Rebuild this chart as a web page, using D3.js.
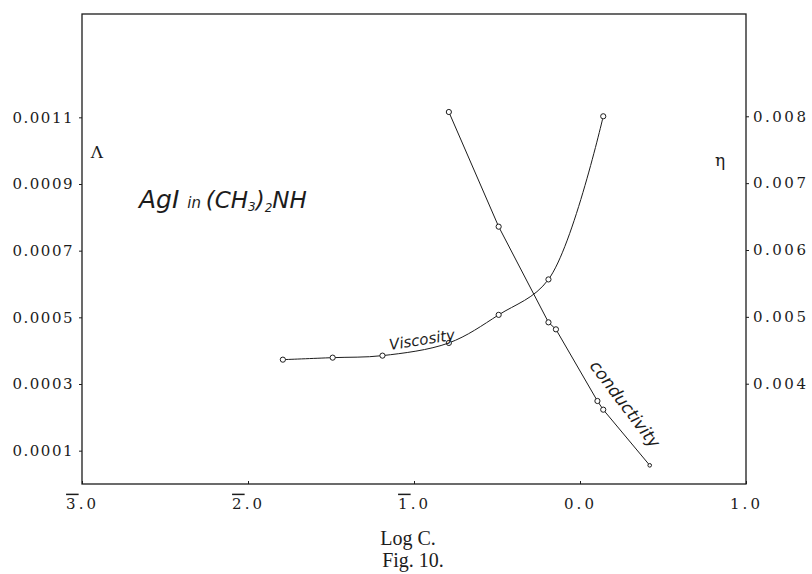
<!DOCTYPE html>
<html>
<head>
<meta charset="utf-8">
<script src="https://cdn.jsdelivr.net/npm/d3@7"></script>
<style>
  html, body { margin: 0; padding: 0; background: #fff; }
  svg { display: block; }
</style>
</head>
<body>
<script>
// ---------------------- DATA ----------------------
const viscLogC = [-1.79, -1.49, -1.19, -0.79, -0.49, -0.19, 0.14];
const viscEta = [0.00436, 0.00439, 0.00442, 0.00461, 0.00503, 0.00556, 0.00800];

const condLogC = [-0.79, -0.49, -0.19, -0.145, 0.105, 0.14, 0.42];
const condLambda = [0.001116, 0.000772, 0.000485, 0.000464, 0.000249, 0.000223, 0.000056];

const xTicks = [-3, -2, -1, 0, 1];
const leftTicks = [0.0001, 0.0003, 0.0005, 0.0007, 0.0009, 0.0011];
const rightTicks = [0.004, 0.005, 0.006, 0.007, 0.008];

// ---------------------- LAYOUT ----------------------
const width = 812, height = 574;
const plot = {left: 82, right: 746, top: 14, bottom: 484};
const ink = "#1c1c1c";
const serif = "'DejaVu Serif', serif";

const svg = d3.select("body").append("svg")
    .attr("width", width)
    .attr("height", height);

const x = d3.scaleLinear().domain([-3, 1]).range([plot.left, plot.right]);
const yL = d3.scaleLinear().domain([0, 0.00141]).range([plot.bottom, plot.top]);
const yR = d3.scaleLinear().domain([0.0025, 0.00953]).range([plot.bottom, plot.top]);

// frame
svg.append("rect")
    .attr("x", plot.left).attr("y", plot.top)
    .attr("width", plot.right - plot.left)
    .attr("height", plot.bottom - plot.top)
    .attr("fill", "none")
    .attr("stroke", ink)
    .attr("stroke-width", 1.3);

// ---------------------- AXES ----------------------
function styleAxis(g) {
    g.select(".domain").remove();
    g.selectAll(".tick line").attr("stroke", ink).attr("stroke-width", 1);
    g.selectAll(".tick text")
        .attr("fill", ink)
        .style("font-family", serif)
        .style("font-size", "15px")
        .style("letter-spacing", "1.5px");
}

svg.append("g")
    .attr("transform", `translate(${plot.left},0)`)
    .call(d3.axisLeft(yL).tickValues(leftTicks).tickFormat(d3.format(".4f")).tickSize(3).tickPadding(5))
    .call(styleAxis);

svg.append("g")
    .attr("transform", `translate(${plot.right},0)`)
    .call(d3.axisRight(yR).tickValues(rightTicks).tickFormat(d3.format(".3f")).tickSize(3).tickPadding(4))
    .call(g => {
        styleAxis(g);
        g.selectAll(".tick text").style("letter-spacing", "2.5px");
    });

const xAxis = svg.append("g")
    .attr("transform", `translate(0,${plot.bottom})`)
    .call(d3.axisBottom(x).tickValues(xTicks).tickSize(-3).tickPadding(14))
    .call(styleAxis);

// negative characteristics are written with a bar over the digit
xAxis.selectAll(".tick text").each(function (d) {
    const t = d3.select(this);
    t.text(null).style("letter-spacing", "3px");
    if (d < 0) {
        t.append("tspan").style("text-decoration", "overline").text(Math.abs(d));
        t.append("tspan").text(".0");
    } else {
        t.text(d.toFixed(1));
    }
});

// axis symbols
svg.append("text")
    .attr("x", 97).attr("y", 158)
    .attr("text-anchor", "middle")
    .style("font-family", serif).style("font-size", "17px")
    .attr("fill", ink)
    .text("Λ");

svg.append("text")
    .attr("x", 720).attr("y", 166)
    .attr("text-anchor", "middle")
    .style("font-family", serif).style("font-size", "17px")
    .attr("fill", ink)
    .text("η");

// x label and caption
svg.append("text")
    .attr("x", 408).attr("y", 545)
    .attr("text-anchor", "middle")
    .style("font-family", "'Liberation Serif', serif").style("font-size", "20px")
    .attr("fill", ink)
    .text("Log C.");

svg.append("text")
    .attr("x", 413).attr("y", 567)
    .attr("text-anchor", "middle")
    .style("font-family", "'Liberation Serif', serif").style("font-size", "20px")
    .attr("fill", ink)
    .text("Fig. 10.");

// ---------------------- CURVES ----------------------
const viscData = viscLogC.map((c, i) => ({c, v: viscEta[i]}));
const condData = condLogC.map((c, i) => ({c, v: condLambda[i]}));

svg.append("path")
    .datum(viscData)
    .attr("fill", "none")
    .attr("stroke", ink)
    .attr("stroke-width", 1)
    .attr("d", d3.line().x(d => x(d.c)).y(d => yR(d.v)).curve(d3.curveCatmullRom.alpha(0.5)));

svg.append("path")
    .datum(condData)
    .attr("fill", "none")
    .attr("stroke", ink)
    .attr("stroke-width", 1)
    .attr("d", d3.line().x(d => x(d.c)).y(d => yL(d.v)));

svg.selectAll(".visc-pt")
    .data(viscData)
    .join("circle")
    .attr("class", "visc-pt")
    .attr("cx", d => x(d.c)).attr("cy", d => yR(d.v))
    .attr("r", 2.6)
    .attr("fill", "#fff").attr("stroke", ink).attr("stroke-width", 1);

svg.selectAll(".cond-pt")
    .data(condData)
    .join("circle")
    .attr("class", "cond-pt")
    .attr("cx", d => x(d.c)).attr("cy", d => yL(d.v))
    .attr("r", (d, i) => i === condData.length - 1 ? 1.8 : 2.6)
    .attr("fill", "#fff").attr("stroke", ink).attr("stroke-width", 1);

// ---------------------- HANDWRITTEN LABELS ----------------------
const hand = "'DejaVu Sans', sans-serif";

const title = svg.append("text")
    .attr("x", 139).attr("y", 208)
    .style("font-family", hand).style("font-style", "italic").style("font-weight", "300")
    .attr("fill", ink);
title.append("tspan").style("font-size", "25px").text("AgI ");
title.append("tspan").style("font-size", "15px").text("in ");
title.append("tspan").style("font-size", "23px").text("(CH");
title.append("tspan").style("font-size", "12px").attr("dy", 3).text("3");
title.append("tspan").style("font-size", "23px").attr("dy", -3).text(")");
title.append("tspan").style("font-size", "12px").attr("dy", 4).text("2");
title.append("tspan").style("font-size", "23px").attr("dy", -4).text("NH");

svg.append("text")
    .attr("transform", "translate(390,350) rotate(-9)")
    .style("font-family", hand).style("font-style", "italic").style("font-size", "15px")
    .attr("fill", ink)
    .text("Viscosity");

svg.append("text")
    .attr("transform", "translate(589,366) rotate(53)")
    .style("font-family", hand).style("font-style", "italic").style("font-size", "17px")
    .attr("fill", ink)
    .text("conductivity");
</script>
</body>
</html>
